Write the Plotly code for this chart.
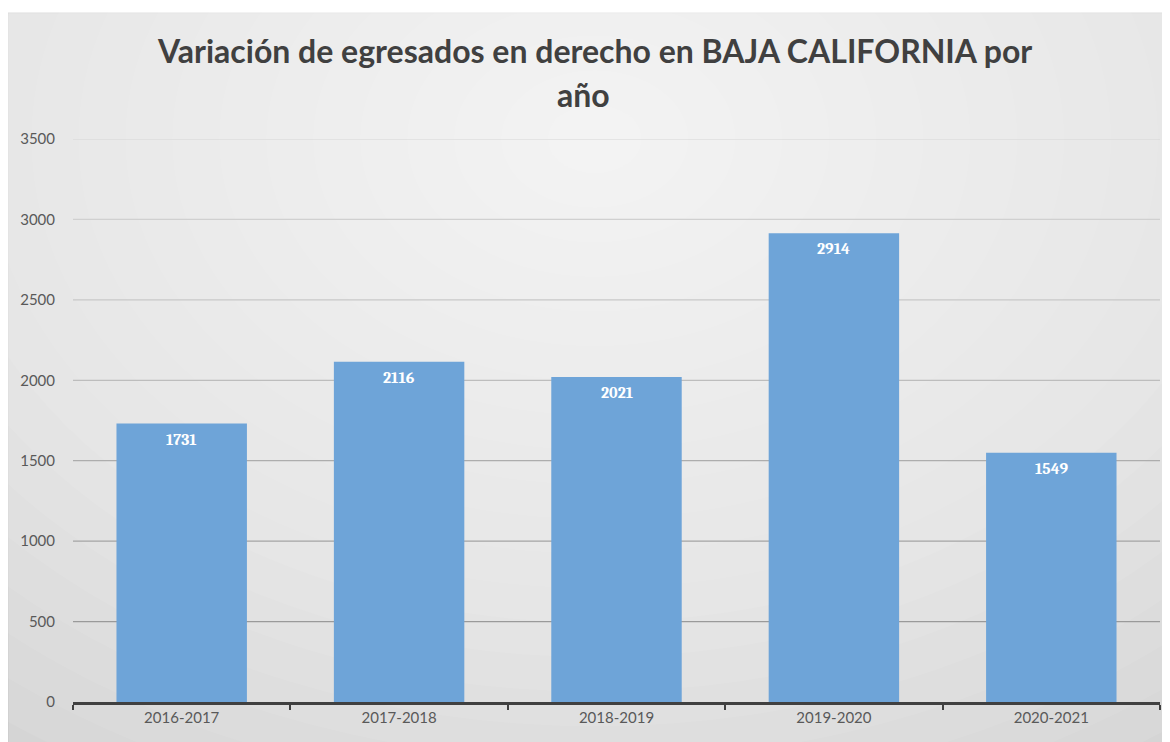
import plotly.graph_objects as go

categories = ["2016-2017", "2017-2018", "2018-2019", "2019-2020", "2020-2021"]
values = [1731, 2116, 2021, 2914, 1549]
y_ticks = [0, 500, 1000, 1500, 2000, 2500, 3000, 3500]
title_line1 = "Variación de egresados en derecho en BAJA CALIFORNIA por"
title_line2 = "año"

# page has an 8px body margin; figure sized to fill the rest of the window
W, H = 1162, 734
L, R, T, B = 65, 10, 131, 40
PW, PH = W - L - R, H - T - B


def px_x(x):
    return (x - L) / PW


def px_y(y):
    return 1 - (y - T) / PH


fig = go.Figure()
fig.add_trace(go.Bar(
    x=categories, y=values, width=0.6,
    marker=dict(color="#6ea4d8", line=dict(width=0)),
    hoverinfo="x+y",
))

shapes = []
# outer gray panel
shapes.append(dict(type="rect", xref="paper", yref="paper", x0=px_x(0), x1=px_x(W + 2),
                   y0=px_y(H + 2), y1=px_y(5), fillcolor="#d2d2d2",
                   line=dict(color="#c4c4c4", width=1), layer="below"))
# radial gradient approximation
n = 22
cx, cy = 0.48, 1.0
for i in range(n):
    f = 1 - i / n
    rx = 0.95 * f
    ry = 1.35 * f
    shapes.append(dict(type="circle", xref="paper", yref="paper",
                       x0=cx - rx, x1=cx + rx, y0=cy - ry, y1=cy + ry,
                       fillcolor="white", opacity=0.075, line=dict(width=0),
                       layer="below"))

# gridlines (fade lighter toward the top, like the gradient in the original)
grid_colors = ["#8c8c8c", "#9a9a9a", "#a4a4a4", "#adadad", "#bdbdbd", "#c8c8c8",
               "#d0d0d0", "#d6d6d6"]
for t, col in zip(y_ticks[1:], grid_colors[1:]):
    shapes.append(dict(type="line", xref="paper", yref="y", x0=0, x1=1, y0=t, y1=t,
                       line=dict(color=col, width=1.2), layer="below"))

fig.update_layout(
    width=W, height=H,
    margin=dict(l=L, r=R, t=T, b=B),
    paper_bgcolor="white", plot_bgcolor="rgba(0,0,0,0)",
    shapes=shapes,
    showlegend=False,
    bargap=0.4,
    font=dict(family="Lato, Open Sans, sans-serif", color="#595959", size=15),
    xaxis=dict(type="category", tickson="boundaries", ticks="outside", ticklen=5,
               tickwidth=2, tickcolor="#404040", showline=True, linecolor="#404040",
               linewidth=2.5, showgrid=False, tickfont=dict(size=15, color="#595959"),
               layer="above traces"),
    yaxis=dict(range=[0, 3500], tickvals=y_ticks, showgrid=False, zeroline=False,
               showline=False, ticks="",
               ticklabelstandoff=17, tickfont=dict(size=15, color="#595959")),
)

for c, v in zip(categories, values):
    fig.add_annotation(x=c, y=v, text=f"<b>{v}</b>", showarrow=False, yanchor="middle",
                       yshift=-16, font=dict(color="white", size=16,
                                             family="Cambria, Liberation Serif, serif"))

fig.add_annotation(xref="paper", yref="paper", x=px_x(594 - 8), y=px_y(50 - 8),
                   yanchor="middle", text=f"<b>{title_line1}</b>", showarrow=False,
                   font=dict(size=32, color="#404040", family="Lato, Open Sans, sans-serif"))
fig.add_annotation(xref="paper", yref="paper", x=px_x(583 - 8), y=px_y(94 - 8),
                   yanchor="middle", text=f"<b>{title_line2}</b>", showarrow=False,
                   font=dict(size=32, color="#404040", family="Lato, Open Sans, sans-serif"))

fig.write_html("out.html")
